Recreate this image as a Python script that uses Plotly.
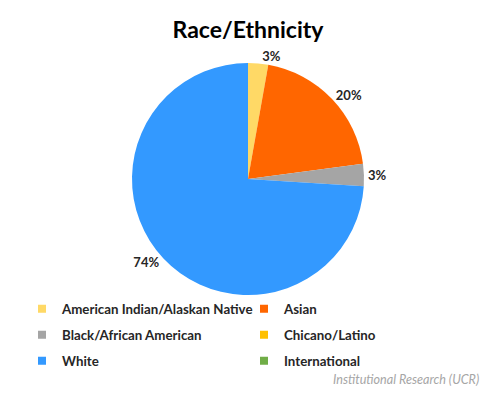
import plotly.graph_objects as go

categories = ["American Indian/Alaskan Native", "Asian", "Black/African American",
              "Chicano/Latino", "White", "International"]
values = [2.8, 20.1, 3.1, 0, 74.0, 0]
labels_txt = ["3%", "20%", "3%", "", "74%", ""]
colors = ["#FFD966", "#FF6600", "#A5A5A5", "#FFC000", "#3399FF", "#70AD47"]

# page body has an 8px margin: figure is sized to fit the 495x400 window
OFF = 8
W, H = 495 - OFF, 400 - OFF
cx, cy, r = 248 - OFF, 179 - OFF, 116

fig = go.Figure()
fig.add_trace(go.Pie(
    labels=categories, values=values, text=labels_txt,
    textinfo="text", textposition="outside",
    sort=False, direction="clockwise", rotation=0,
    marker=dict(colors=colors, line=dict(width=0)),
    textfont=dict(family="Lato", size=13, color="#262626", weight="bold"),
    outsidetextfont=dict(family="Lato", size=13, color="#262626", weight="bold"),
    hoverinfo="label+percent", showlegend=False,
    domain=dict(x=[(cx - r) / W, (cx + r) / W], y=[1 - (cy + r) / H, 1 - (cy - r) / H]),
))

# legend entries: two per row, three rows
legend_names = ["legend", "legend", "legend2", "legend2", "legend3", "legend3"]
for name, col, lg in zip(categories, colors, legend_names):
    fig.add_trace(go.Scatter(
        x=[None], y=[None], mode="markers", name=name, legend=lg,
        marker=dict(symbol="square", size=8, color=col),
        hoverinfo="skip",
    ))

leg_font = dict(family="Lato", size=13.3, color="#262626", weight="bold")
row_y = [309 - OFF, 335 - OFF, 361 - OFF]
legend_common = dict(orientation="h", x=14 / W, xanchor="left", yanchor="middle",
                     entrywidth=177, entrywidthmode="pixels", font=leg_font,
                     itemwidth=30, bgcolor="rgba(0,0,0,0)")

fig.update_layout(
    width=W, height=H,
    margin=dict(l=0, r=0, t=0, b=0),
    paper_bgcolor="white", plot_bgcolor="white",
    xaxis=dict(visible=False), yaxis=dict(visible=False),
    title=dict(text="<b>Race/Ethnicity</b>", x=(248 - OFF) / W, xanchor="center",
               y=1 - (30 - OFF) / H, yanchor="middle",
               font=dict(family="Lato", size=23, color="#000000")),
    legend=dict(y=1 - row_y[0] / H, **legend_common),
    legend2=dict(y=1 - row_y[1] / H, **legend_common),
    legend3=dict(y=1 - row_y[2] / H, **legend_common),
    annotations=[dict(text="<i>Institutional Research (UCR)</i>", x=(481 - OFF) / W, xanchor="right",
                      y=1 - (379 - OFF) / H, yanchor="middle", xref="paper", yref="paper",
                      showarrow=False, font=dict(family="Lato", size=12.6, color="#A6A6A6"))],
)

fig.write_html("out.html")
